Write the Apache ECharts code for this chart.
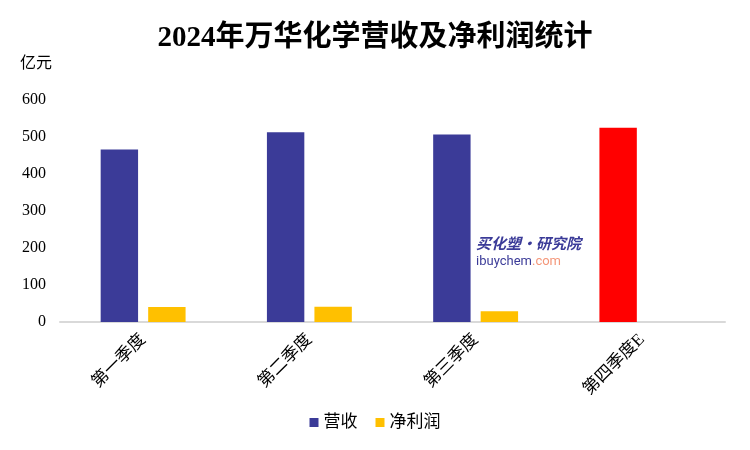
<!DOCTYPE html>
<html><head><meta charset="utf-8">
<script src="https://cdn.jsdelivr.net/npm/echarts@6/dist/echarts.min.js"></script>
<style>html,body{margin:0;padding:0;background:#fff}#c{width:750px;height:450px}</style>
</head><body><div id="c"></div>
<script>
var categories = ['第一季度', '第二季度', '第三季度', '第四季度E'];
var revenue = [466, 513, 507, 525];
var netProfit = [40.5, 40.9, 29.1, null];
var yTicks = [0, 100, 200, 300, 400, 500, 600];
var seriesNames = ['营收', '净利润'];

var FONT = '"Liberation Serif", "Noto Sans CJK SC", serif';
var chart = echarts.init(document.getElementById('c'));
var revData = revenue.map(function (v, i) {
  return i === 3 ? { value: v, itemStyle: { color: '#FF0000' } } : v;
});
chart.setOption({
  animation: false,
  backgroundColor: '#fff',
  title: {
    text: '2024年万华化学营收及净利润统计',
    left: 'center', top: 19,
    textStyle: { fontFamily: FONT, fontSize: 29, fontWeight: 'bold', color: '#000' }
  },
  legend: {
    bottom: 14, left: 'center',
    itemWidth: 9, itemHeight: 9, itemGap: 18,
    icon: 'rect',
    textStyle: { fontFamily: FONT, fontSize: 17, color: '#000' },
    data: seriesNames
  },
  grid: { left: 60, right: 25, top: 100, bottom: 128 },
  xAxis: {
    type: 'category', data: categories,
    axisLine: { lineStyle: { color: '#d9d9d9', width: 2 } },
    axisTick: { show: false },
    axisLabel: { rotate: 45, fontFamily: FONT, fontSize: 17, color: '#000', margin: 15 }
  },
  yAxis: {
    type: 'value', min: yTicks[0], max: yTicks[yTicks.length - 1], interval: 100,
    name: '亿元', nameLocation: 'end', nameGap: 28,
    nameTextStyle: { fontFamily: FONT, fontSize: 16, color: '#000', align: 'right', padding: [0, 8, 0, 0] },
    axisLine: { show: false }, axisTick: { show: false }, splitLine: { show: false },
    axisLabel: { fontFamily: FONT, fontSize: 16, color: '#000', margin: 14 }
  },
  graphic: [{
    type: 'text', left: 476, top: 236,
    style: {
      text: '{a|买化塑·研究院}\n{b|ibuychem}{c|.com}',
      rich: {
        a: { fontFamily: '"Noto Sans CJK SC"', fontSize: 15, fontWeight: 'bold', fontStyle: 'italic', fill: '#3B3B98', lineHeight: 20 },
        b: { fontFamily: 'Roboto', fontSize: 13, fill: '#3B3B98', lineHeight: 17 },
        c: { fontFamily: 'Roboto', fontSize: 13, fill: '#F4977A', lineHeight: 17 }
      }
    }
  }],
  series: [
    { name: seriesNames[0], type: 'bar', data: revData, barWidth: '22.5%', barGap: '27%',
      itemStyle: { color: '#3B3B98' } },
    { name: seriesNames[1], type: 'bar', data: netProfit, barWidth: '22.5%',
      itemStyle: { color: '#FFC000' } }
  ]
});
</script></body></html>
